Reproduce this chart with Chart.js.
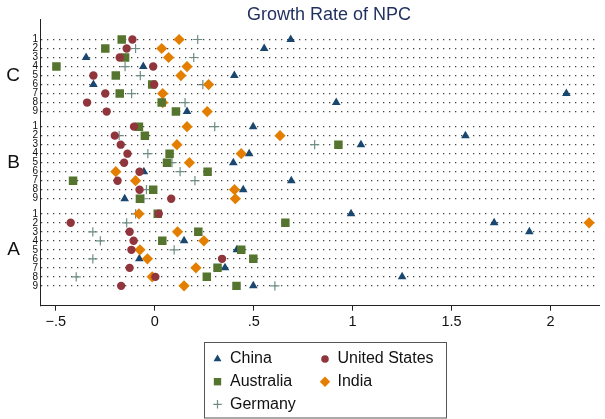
<!DOCTYPE html>
<html>
<head>
<meta charset="utf-8">
<script src="https://cdn.jsdelivr.net/npm/chart.js@4/dist/chart.umd.min.js"></script>
<style>
  html, body { margin: 0; padding: 0; background: #fff; }
  #wrap { width: 605px; height: 419px; position: relative; }
</style>
</head>
<body>
<div id="wrap"><canvas id="c" width="605" height="419"></canvas></div>
<script>
// Groups (top to bottom) and the nine rows inside each group
const groups = ['C', 'B', 'A'];
const rowLabels = ['1', '2', '3', '4', '5', '6', '7', '8', '9'];

// x axis ticks
const xTickValues = [-0.5, 0, 0.5, 1, 1.5, 2];
const xTickLabels = ['\u2212.5', '0', '.5', '1', '1.5', '2'];

// Growth rates, rows C1..C9, B1..B9, A1..A9
const china = [
  0.687, 0.553, -0.347, -0.058, 0.402, -0.310, 2.080, 0.917, 0.163,
  0.497, 1.570, 1.042, 0.477, 0.397, -0.055, 0.690, 0.447, -0.152,
  0.992, 1.715, 1.893, 0.148, 0.415, -0.078, 0.355, 1.250, 0.498
];
const unitedStates = [
  -0.113, -0.142, -0.177, -0.008, -0.310, -0.003, -0.250, -0.342, -0.243,
  -0.105, -0.202, -0.172, -0.138, -0.155, -0.077, -0.188, -0.077, 0.083,
  0.020, -0.425, -0.127, -0.107, -0.118, 0.340, -0.127, 0.003, -0.170
];
const australia = [
  -0.167, -0.250, -0.150, -0.497, -0.197, -0.013, -0.177, 0.035, 0.107,
  -0.080, -0.050, 0.928, 0.075, 0.062, 0.267, -0.413, -0.008, -0.075,
  0.015, 0.660, 0.220, 0.038, 0.437, 0.498, 0.317, 0.263, 0.413
];
const india = [
  0.123, 0.035, 0.070, 0.163, 0.132, 0.272, 0.040, 0.040, 0.265,
  0.163, 0.633, 0.112, 0.437, 0.175, -0.197, -0.097, 0.403, 0.407,
  -0.080, 2.195, 0.115, 0.248, -0.075, -0.037, 0.208, -0.013, 0.148
];
const germany = [
  0.217, -0.097, 0.197, -0.150, -0.073, 0.243, -0.117, 0.153, null,
  0.303, -0.180, 0.808, -0.035, 0.087, 0.128, 0.203, -0.042, -0.055,
  -0.097, -0.142, -0.313, -0.275, 0.098, -0.313, null, -0.397, 0.607
];

// Vertical layout: rows are one unit apart, groups are separated by a wider gap
const GROUP_STRIDE = 9.67;
const rowPos = (i) => Math.floor(i / rowLabels.length) * GROUP_STRIDE + (i % rowLabels.length);
const rowPositions = groups.flatMap((g, gi) => rowLabels.map((r, ri) => rowPos(gi * rowLabels.length + ri)));
const groupCenters = groups.map((g, gi) => gi * GROUP_STRIDE + (rowLabels.length - 1) / 2);
const Y_MIN = -2.23;
const Y_MAX = (groups.length - 1) * GROUP_STRIDE + rowLabels.length - 1 + 2.2;

const toPoints = (vals) => vals.map((v, i) => (v === null ? null : { x: v, y: rowPos(i) })).filter(p => p);

const FONT = "'Liberation Sans', Arial, Helvetica, sans-serif";

const series = [
  { label: 'China',         data: china,        color: '#1a476f', style: 'triangle', radius: 5.0, order: 4 },
  { label: 'United States', data: unitedStates, color: '#90353b', style: 'circle',   radius: 4.2, order: 1 },
  { label: 'Australia',     data: australia,    color: '#55752f', style: 'rect',     radius: 6.0, order: 2 },
  { label: 'India',         data: india,        color: '#e37e00', style: 'rectRot',  radius: 5.6, order: 3 },
  { label: 'Germany',       data: germany,      color: '#6e8e84', style: 'cross',    radius: 4.6, order: 5 }
];

const datasets = series.map(s => ({
  label: s.label,
  data: toPoints(s.data),
  pointStyle: s.style,
  pointRadius: s.radius,
  pointHoverRadius: s.radius,
  backgroundColor: s.color,
  borderColor: s.color,
  pointBorderWidth: s.style === 'cross' ? 1.2 : 0,
  showLine: false,
  order: s.order
}));

// Chart title drawn above the plot region
const titlePlugin = {
  id: 'plotTitle',
  afterDraw(chart) {
    const ctx = chart.ctx;
    ctx.save();
    ctx.font = '18px ' + FONT;
    ctx.fillStyle = '#1f2f5e';
    ctx.textAlign = 'center';
    ctx.textBaseline = 'middle';
    ctx.fillText('Growth Rate of NPC', 329, 15);
    ctx.restore();
  }
};

// Boxed two-column legend under the axis
const boxLegendPlugin = {
  id: 'boxLegend',
  afterDraw(chart) {
    const ctx = chart.ctx;
    const box = { left: 204.5, top: 342.5, width: 242, height: 75.5 };
    const cols = [217.5, 325];
    const rows = [359, 381.7, 404.3];
    const markerR = { triangle: 4.6, circle: 3.8, rect: 5.2, rectRot: 5.2, cross: 4.2 };
    ctx.save();
    ctx.strokeStyle = '#555';
    ctx.lineWidth = 1;
    ctx.strokeRect(box.left, box.top, box.width, box.height);
    ctx.font = '16px ' + FONT;
    ctx.textBaseline = 'middle';
    ctx.textAlign = 'left';
    series.forEach((s, i) => {
      const x = cols[i % 2];
      const y = rows[Math.floor(i / 2)];
      ctx.fillStyle = s.color;
      ctx.strokeStyle = s.color;
      ctx.lineWidth = 1.2;
      const opts = { pointStyle: s.style, radius: markerR[s.style], rotation: 0, borderWidth: s.style === 'cross' ? 1.2 : 0 };
      Chart.helpers.drawPoint(ctx, opts, x, y);
      ctx.fillStyle = '#111';
      ctx.fillText(s.label, x + 12.5, y);
    });
    ctx.restore();
  }
};

new Chart(document.getElementById('c'), {
  type: 'scatter',
  data: { datasets },
  options: {
    responsive: false,
    animation: false,
    events: [],
    layout: { padding: { top: 17, right: 0, bottom: 0, left: 0 } },
    plugins: {
      legend: { display: false },
      tooltip: { enabled: false },
      title: { display: false }
    },
    scales: {
      x: {
        type: 'linear',
        min: -0.58,
        max: 2.245,
        afterBuildTicks: (axis) => { axis.ticks = xTickValues.map(v => ({ value: v })); },
        afterFit: (axis) => { axis.height = 113.3; },
        ticks: {
          callback: (v, i) => xTickLabels[i],
          color: '#111',
          font: { family: FONT, size: 14.5 },
          padding: 3,
          maxRotation: 0
        },
        grid: { drawOnChartArea: false, drawTicks: true, tickLength: 5, color: '#222', lineWidth: 1 },
        border: { display: true, color: '#222', width: 1 }
      },
      y: {
        type: 'linear',
        position: 'left',
        weight: 0,
        reverse: true,
        min: Y_MIN,
        max: Y_MAX,
        afterBuildTicks: (axis) => { axis.ticks = rowPositions.map(v => ({ value: v })); },
        afterFit: (axis) => { axis.width = 12; },
        ticks: {
          callback: (v, i) => rowLabels[i % rowLabels.length],
          color: '#111',
          font: { family: FONT, size: 10 },
          padding: 2,
          autoSkip: false
        },
        grid: { drawOnChartArea: true, drawTicks: false, tickLength: 0, color: '#444', lineWidth: 1.3 },
        border: { display: true, color: '#222', width: 1, dash: [1.3, 4.7] }
      },
      yGroup: {
        type: 'linear',
        position: 'left',
        weight: 1,
        reverse: true,
        min: Y_MIN,
        max: Y_MAX,
        afterBuildTicks: (axis) => { axis.ticks = groupCenters.map(v => ({ value: v })); },
        afterFit: (axis) => { axis.width = 28; },
        ticks: {
          callback: (v, i) => groups[i],
          color: '#111',
          font: { family: FONT, size: 19 },
          padding: 8,
          autoSkip: false
        },
        grid: { display: false, drawTicks: false, tickLength: 0 },
        border: { display: false }
      }
    }
  },
  plugins: [titlePlugin, boxLegendPlugin]
});
</script>
</body>
</html>
